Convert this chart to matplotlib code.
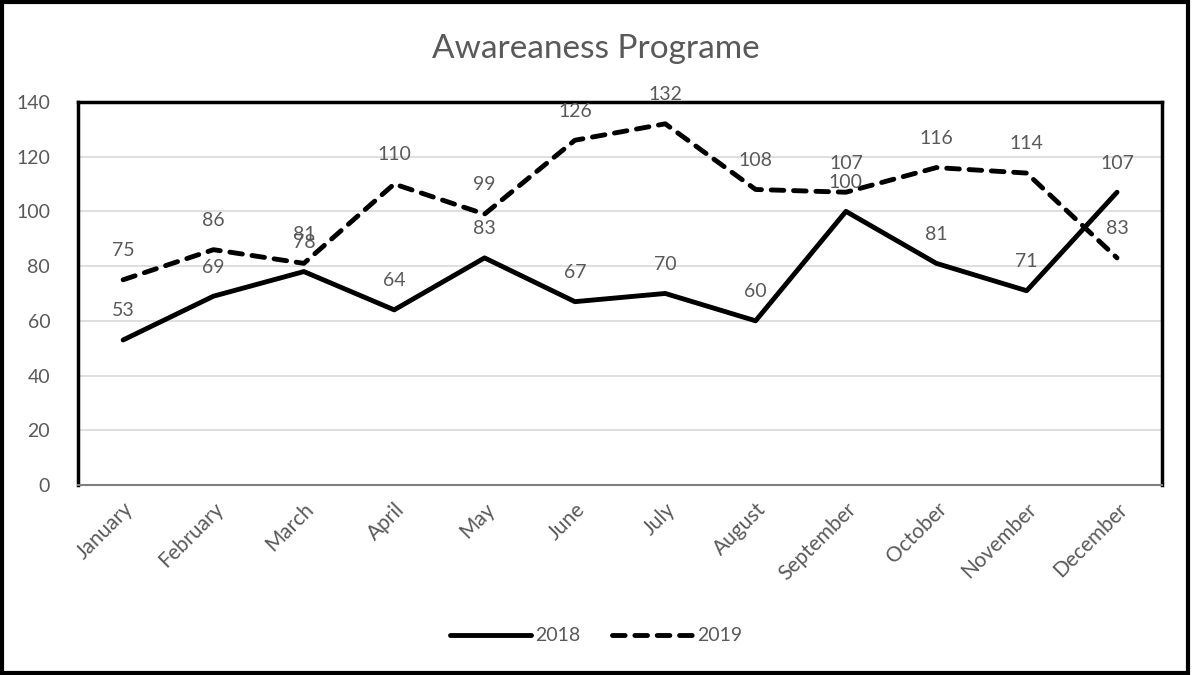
import matplotlib.pyplot as plt
from matplotlib.patches import Rectangle

months = ['January', 'February', 'March', 'April', 'May', 'June', 'July',
          'August', 'September', 'October', 'November', 'December']
s2018 = [53, 69, 78, 64, 83, 67, 70, 60, 100, 81, 71, 107]
s2019 = [75, 86, 81, 110, 99, 126, 132, 108, 107, 116, 114, 83]

plt.rcParams['font.family'] = ['Lato', 'DejaVu Sans']
gray = '#595959'

fig = plt.figure(figsize=(11.92, 6.75), dpi=100)
ax = fig.add_axes([0.0654, 0.2815, 0.9096, 0.5675])

x = list(range(len(months)))
ax.plot(x, s2018, color='black', lw=3.5, solid_capstyle='round',
        solid_joinstyle='round', label='2018', zorder=3)
ax.plot(x, s2019, color='black', lw=3.5, dashes=(2.6, 2.0),
        dash_capstyle='round', label='2019', zorder=3)

for xi, v in zip(x, s2018):
    ax.annotate(str(v), (xi, v), xytext=(0, 21), textcoords='offset points',
                ha='center', va='center', fontsize=14, color=gray)
for xi, v in zip(x, s2019):
    ax.annotate(str(v), (xi, v), xytext=(0, 21), textcoords='offset points',
                ha='center', va='center', fontsize=14, color=gray)

ax.set_xlim(-0.5, 11.5)
ax.set_ylim(0, 140)
ax.set_yticks(range(0, 141, 20))
ax.set_xticks(x)
ax.set_xticklabels(months, rotation=45, ha='right', rotation_mode='anchor',
                   fontsize=15)
ax.tick_params(axis='both', length=0, labelcolor=gray)
ax.tick_params(axis='y', labelsize=14, pad=20)
ax.tick_params(axis='x', pad=10)
ax.grid(axis='y', color='#d9d9d9', lw=1.2)
ax.set_axisbelow(True)
for side in ['left', 'top', 'right']:
    ax.spines[side].set_linewidth(2.5)
    ax.spines[side].set_color('black')
ax.spines['bottom'].set_color('#7f7f7f')
ax.spines['bottom'].set_linewidth(1.5)

fig.text(0.5, 0.928, 'Awareaness Programe', ha='center', va='center',
         fontsize=24, color=gray)

fig.legend(loc='center', bbox_to_anchor=(0.5, 0.058), ncol=2, frameon=False,
           fontsize=14, labelcolor=gray, handlelength=4.2, columnspacing=1.6,
           handletextpad=0.2)

fig.patches.append(Rectangle((0.002, 0.003), 0.995, 0.994, transform=fig.transFigure,
                             fill=False, edgecolor='black', lw=3))

fig.savefig('out.png', dpi=100)
